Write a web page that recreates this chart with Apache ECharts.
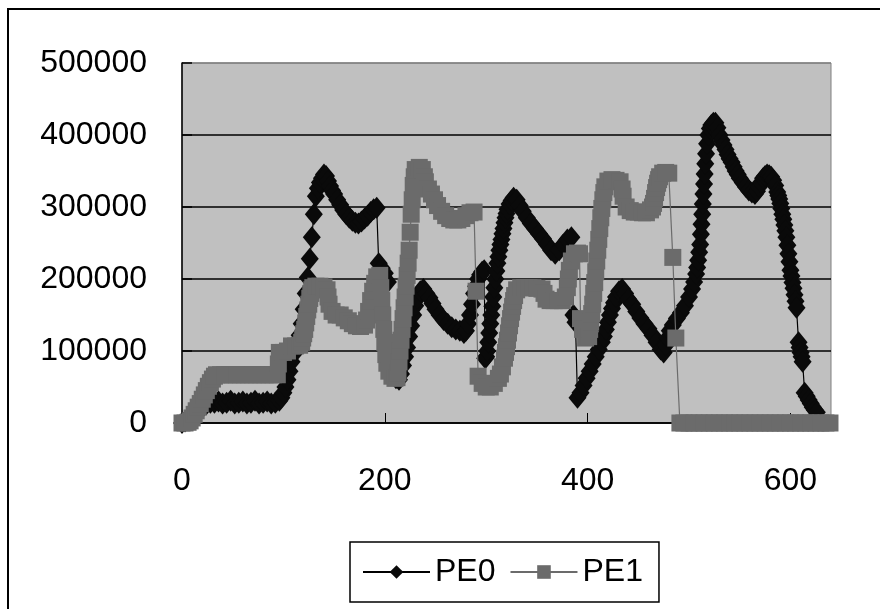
<!DOCTYPE html>
<html><head><meta charset="utf-8">
<script src="https://cdn.jsdelivr.net/npm/echarts@6/dist/echarts.min.js"></script>
<style>html,body{margin:0;padding:0;background:#fff}#c{width:880px;height:609px}</style>
</head><body><div id="c"></div>
<script>
const seriesNames = ['PE0', 'PE1'];
const xTicks = [0, 200, 400, 600];
const yTicks = [0, 100000, 200000, 300000, 400000, 500000];

// PE0 samples as [x, value]
const pe0Points = [
  [0,0],[3,2000],[6,6000],[9,10000],[12,13000],[15,17000],[18,20000],[21,23000],[24,26000],[28,28000],
  [32,28000],[36,30000],[40,27000],[44,28000],[48,31000],[52,27000],[56,28000],[60,30000],[64,27000],
  [68,28000],[72,31000],[76,27000],[80,28000],[84,30000],[88,27000],[92,28000],[96,31000],
  [98,35000],[100,42000],[102,50000],[104,60000],[106,72000],[108,85000],[110,96000],[112,105000],
  [114,112000],[116,122000],[118,138000],[120,158000],[122,180000],[124,202000],[126,228000],
  [128,258000],[130,290000],[132,315000],[134,326000],[136,334000],[138,340000],[140,345000],
  [142,343000],[144,336000],[146,329000],[148,323000],[150,318000],[153,310000],[156,303000],
  [159,296000],[162,290000],[165,285000],[168,281000],[171,278000],[174,277000],[177,280000],
  [180,284000],[183,288000],[186,293000],[189,297000],[192,299000],
  [194,222000],[197,215000],[200,208000],[203,196000],
  [205,80000],[208,70000],[211,62000],[214,60000],[216,68000],[218,80000],[220,92000],[222,105000],
  [224,120000],[226,135000],[228,150000],[230,163000],[232,173000],[235,183000],[238,186000],
  [241,180000],[244,174000],[247,166000],[250,158000],[254,150000],[258,143000],[262,138000],
  [266,133000],[270,130000],[274,128000],[278,125000],[280,128000],[282,138000],[284,150000],
  [286,165000],[288,180000],[290,190000],[292,200000],[294,206000],[296,210000],[298,212000],
  [299,90000],[300,92000],[301,100000],[302,112000],[303,125000],[304,138000],[305,150000],
  [306,162000],[307,175000],[308,188000],[309,200000],[310,211000],[311,222000],[312,231000],
  [313,240000],[314,248000],[315,255000],[316,263000],[317,270000],[318,278000],[319,285000],
  [320,291000],[321,297000],[323,304000],[325,309000],[327,313000],[330,310000],[333,302000],
  [336,294000],[340,285000],[344,277000],[348,270000],[352,263000],[356,256000],[360,248000],
  [364,240000],[368,235000],[372,240000],[376,248000],[380,255000],[384,258000],
  [386,150000],[388,140000],
  [390,35000],[393,42000],[396,52000],[399,62000],[402,72000],[405,82000],[408,92000],[411,102000],
  [414,112000],[416,120000],[418,130000],[420,140000],[422,150000],[424,159000],[426,167000],
  [428,175000],[431,183000],[434,186000],[437,180000],[440,172000],[444,165000],[448,155000],
  [452,146000],[456,138000],[460,131000],[464,122000],[468,112000],[472,102000],[475,98000],
  [477,108000],[479,118000],[481,128000],[484,136000],[488,145000],[492,153000],[496,163000],
  [500,175000],[503,186000],[505,196000],[507,207000],[508,216000],[509,226000],[510,237000],
  [511,248000],[511.7,262000],[512.3,276000],[513,290000],[513.6,304000],[514.2,318000],
  [514.8,332000],[515.4,346000],[516,360000],[516.8,374000],[517.8,388000],[519,400000],
  [520.5,409000],[522,414000],[524,417000],[526,417000],[528,410000],[530,400000],[532,393000],
  [534,386000],[536,380000],[538,373000],[540,367000],[542,362000],[544,356000],[546,350000],
  [548,345000],[550,340000],[553,334000],[556,328000],[559,323000],[562,320000],[565,318000],
  [567,322000],[569,328000],[571,334000],[573,340000],[575,343000],[577,345000],[579,344000],
  [581,342000],[583,337000],[585,330000],[587,321000],[588,316000],[589,311000],[590,305000],
  [591,298000],[592,290000],[593,283000],[594,275000],[595,267000],[596,258000],[597,247000],
  [598,235000],[599,224000],[600,212000],[601,204000],[602,195000],[603,187000],[604,178000],
  [605,169000],[606,160000],
  [608,112000],[609,105000],[610,98000],[611,92000],[612,85000],
  [614,42000],[616,37000],[618,32000],[620,27000],[622,22000],[624,18000],[626,15000]
];

// PE1 samples as [x, value]
const pe1Points = [
  [0,0],[3,0],[6,1000],[8,3000],[10,7000],[12,12000],[14,17000],[16,22000],[18,27000],[20,33000],
  [22,39000],[24,45000],[26,51000],[28,56000],[30,61000],[32,65000],[34,67000],[38,67000],
  [42,67000],[46,67000],[50,67000],[54,67000],[58,67000],[62,67000],[66,67000],[70,67000],
  [74,67000],[78,67000],[82,67000],[86,67000],[90,67000],[94,67000],
  [95,82000],[96,98000],[100,98000],[104,100000],[108,107000],[112,107000],[116,108000],
  [118,112000],[119,118000],[120,124000],[121,130000],[122,139000],[123,148000],[124,157000],
  [125,165000],[126,173000],[127,180000],[128,185000],[129,188000],[132,190000],[136,190000],
  [140,189000],[143,185000],[144,175000],[145,165000],[148,155000],[152,150000],[156,150000],
  [160,146000],[164,142000],[168,138000],[172,135000],[176,134000],[180,136000],[182,143000],
  [184,155000],[186,170000],[188,183000],[190,194000],[192,203000],[195,205000],
  [196,188000],[197,170000],[198,150000],[199,130000],[200,112000],[201,95000],[202,83000],
  [204,72000],[207,65000],[210,62000],[212,63000],[213,70000],[214,85000],[215,100000],
  [216,115000],[217,130000],[218,145000],[219,160000],[220,175000],[221,190000],[222,205000],
  [223,222000],[224,240000],[225,265000],[226,290000],[227,310000],[228,330000],[229,342000],
  [230,352000],[234,355000],[237,352000],[239,342000],[240,335000],[243,325000],[246,318000],
  [249,310000],[252,302000],[256,294000],[260,288000],[264,284000],[268,282000],[272,282000],
  [276,284000],[280,288000],[284,292000],[288,293000],
  [290,183000],[292,65000],[296,55000],[300,50000],[304,50000],[308,55000],[312,62000],
  [314,68000],[316,78000],[318,90000],[319,98000],[320,106000],[321,115000],[322,125000],
  [323,135000],[324,145000],[325,154000],[326,162000],[327,170000],[328,177000],[330,185000],
  [334,188000],[338,188000],[342,188000],[346,188000],[350,187000],[355,186000],[357,180000],
  [359,172000],[363,170000],[367,170000],[371,170000],[375,170000],[378,175000],[380,188000],
  [381,200000],[382,212000],[384,225000],[387,235000],[390,236000],[392,235000],
  [393,145000],[395,130000],[398,118000],[401,120000],[402,130000],[403,140000],[404,152000],
  [405,165000],[406,180000],[407,195000],[408,210000],[409,225000],[410,240000],[411,255000],
  [412,270000],[413,285000],[414,298000],[415,310000],[416,320000],[417,328000],[420,336000],
  [424,338000],[428,337000],[432,335000],[434,325000],[435,315000],[438,300000],[442,295000],
  [446,293000],[450,293000],[454,292000],[458,292000],[462,296000],[464,300000],[465,305000],
  [466,312000],[467,320000],[468,327000],[469,333000],[470,338000],[471,342000],[474,347000],
  [477,348000],[480,347000],
  [484,230000],[487,118000],[491,0],
  [495,0],[500,0],[505,0],[510,0],[515,0],[520,0],[525,0],[530,0],[535,0],[540,0],[545,0],
  [550,0],[555,0],[560,0],[565,0],[570,0],[575,0],[580,0],[585,0],[590,0],[595,0],[600,0],
  [605,0],[610,0],[615,0],[620,0],[625,0],[630,0],[635,0],[639,0]
];

const FONT = 'Liberation Sans';
const chart = echarts.init(document.getElementById('c'), null, {renderer: 'canvas'});
chart.setOption({
  backgroundColor: '#ffffff',
  animation: false,
  graphic: [{
    type: 'rect', z: 100, silent: true,
    shape: {x: 8, y: 9, width: 900, height: 700},
    style: {fill: 'none', stroke: '#000', lineWidth: 2}
  }],
  grid: {left: 182, right: 49, top: 63, bottom: 186, show: true,
         backgroundColor: '#c0c0c0', borderColor: '#808080', borderWidth: 1},
  xAxis: {
    type: 'value', min: xTicks[0], max: 640, interval: 200,
    axisLine: {show: true, lineStyle: {color: '#000', width: 1.5}},
    axisTick: {show: true, inside: true, length: 10, lineStyle: {color: '#000', width: 1}},
    axisLabel: {margin: 42, fontSize: 32, color: '#000', fontFamily: FONT, showMaxLabel: false,
                formatter: v => String(v)},
    splitLine: {show: false}
  },
  yAxis: {
    type: 'value', min: yTicks[0], max: yTicks[yTicks.length - 1], interval: 100000,
    axisLine: {show: true, lineStyle: {color: '#000', width: 1.5}},
    axisTick: {show: true, inside: true, length: 10, lineStyle: {color: '#000', width: 1.5}},
    axisLabel: {margin: 35, fontSize: 32, color: '#000', fontFamily: FONT, formatter: v => String(v)},
    splitLine: {show: true, lineStyle: {color: ['#000', '#000', '#000', '#000', '#000', '#808080'], width: 1.5}}
  },
  legend: {
    data: seriesNames, left: 350, top: 542, orient: 'horizontal',
    itemWidth: 67, itemHeight: 17, itemGap: 14,
    padding: [14, 16, 14, 12],
    borderColor: '#000', borderWidth: 1.5, backgroundColor: '#fff',
    textStyle: {fontSize: 32, color: '#000', fontFamily: FONT}
  },
  series: [
    {name: seriesNames[0], type: 'line', data: pe0Points, clip: false,
     symbol: 'diamond', symbolSize: [18, 22], showSymbol: true,
     itemStyle: {color: '#0a0a0a'}, lineStyle: {color: '#000', width: 1.2}, z: 2},
    {name: seriesNames[1], type: 'line', data: pe1Points, clip: false,
     symbol: 'rect', symbolSize: 17, showSymbol: true,
     itemStyle: {color: '#6b6b6b'}, lineStyle: {color: '#6b6b6b', width: 1.2}, z: 3}
  ]
});
</script></body></html>
